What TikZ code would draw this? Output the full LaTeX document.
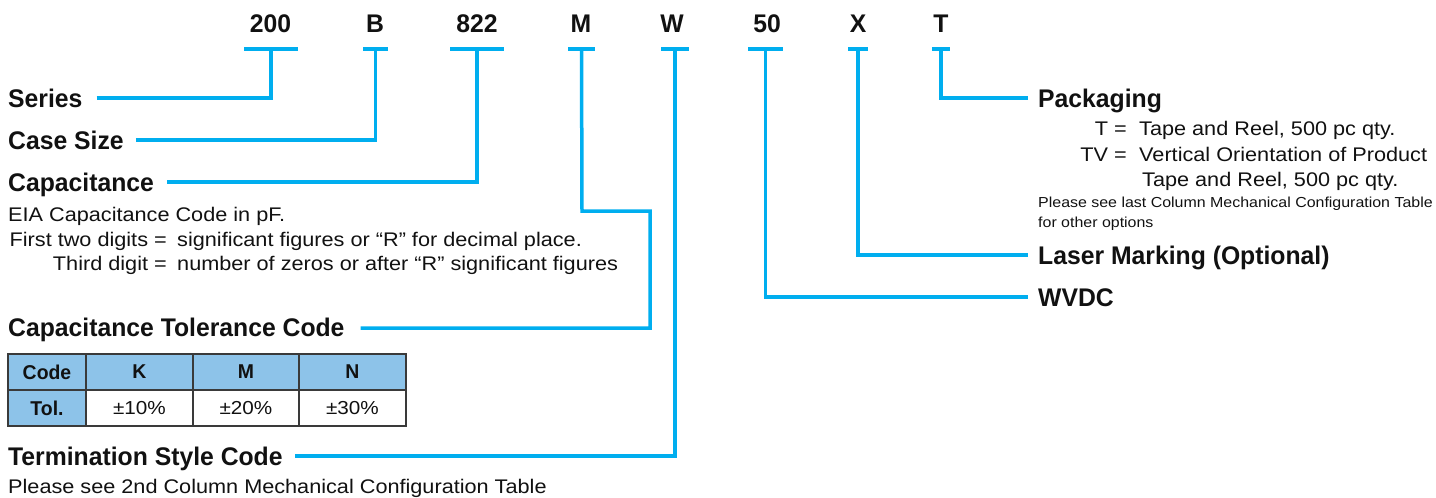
\documentclass[tikz,border=0pt]{standalone}
\usepackage{fontspec}
\setmainfont{Liberation Sans}[FakeStretch=0.97]
\newfontfamily\bodyfont{Liberation Sans}[FakeStretch=1.1]
\definecolor{cyanline}{HTML}{00AEEF}
\definecolor{tblue}{HTML}{8DC3E9}
\definecolor{tborder}{HTML}{3A3A3A}
\definecolor{txt}{HTML}{111111}
\tikzset{
  conn/.style={draw=cyanline, line width=3.5pt},
  codetxt/.style={font=\bfseries\fontsize{25.5}{30}\selectfont, text=txt, inner sep=0pt},
  codebar/.style={fill=cyanline, inner sep=0pt, minimum height=4pt},
  head/.style={font=\bfseries\fontsize{25.5}{30}\selectfont, text=txt, inner sep=0pt, anchor=west, text height=18.3pt, text depth=0pt},
  body/.style={font=\bodyfont\fontsize{19.7}{23}\selectfont, text=txt, inner sep=0pt, text height=13.5pt, text depth=0pt},
  small/.style={font=\bodyfont\fontsize{14.5}{17}\selectfont, text=txt, inner sep=0pt, anchor=west, text height=10pt, text depth=0pt},
  cellb/.style={font=\bfseries\fontsize{20}{24}\selectfont, text=txt, inner sep=0pt},
  cellr/.style={font=\bodyfont\fontsize{18.8}{22}\selectfont, text=txt, inner sep=0pt}
}
\begin{document}
\begin{tikzpicture}[x=1pt,y=-1pt]
\useasboundingbox (0,0) rectangle (1436,498);
% codes
\node[codetxt] (c200) at (270.5,24) {200};
\node[codetxt] (cB) at (375,24) {B};
\node[codetxt] (c822) at (477,24) {822};
\node[codetxt] (cM) at (581,24) {M};
\node[codetxt] (cW) at (672,24) {W};
\node[codetxt] (c50) at (767,24) {50};
\node[codetxt] (cX) at (858,24) {X};
\node[codetxt] (cT) at (941,24) {T};
% bars
\node[codebar, minimum width=54pt] (b200) at (271,48.5) {};
\node[codebar, minimum width=25pt] (bB) at (375.5,48.5) {};
\node[codebar, minimum width=54pt] (b822) at (477,48.5) {};
\node[codebar, minimum width=27pt] (bM) at (581.5,48.5) {};
\node[codebar, minimum width=28pt] (bW) at (675,48.5) {};
\node[codebar, minimum width=35pt] (b50) at (765.5,48.5) {};
\node[codebar, minimum width=20pt] (bX) at (858,48.5) {};
\node[codebar, minimum width=18pt] (bT) at (941,48.5) {};
% left headings
\node[head] (series) at (8,98) {Series};
\node[head] (case) at (8,140) {Case Size};
\node[head] (cap) at (8,182) {Capacitance};
\node[head] (captol) at (8,327) {Capacitance Tolerance Code};
\node[head] (term) at (8,456) {Termination Style Code};
% left body
\node[body, anchor=west] (eia) at (8,215) {EIA Capacitance Code in pF.};
\node[body, anchor=east] (first) at (167,240) {First two digits =};
\node[body, anchor=west] (firstd) at (177,240) {significant figures or “R” for decimal place.};
\node[body, anchor=east] (third) at (167,264) {Third digit =};
\node[body, anchor=west] (thirdd) at (177,264) {number of zeros or after “R” significant figures};
\node[body, anchor=west] (please) at (8,487) {Please see 2nd Column Mechanical Configuration Table};
% right headings
\node[head] (pack) at (1038,98) {Packaging};
\node[head] (laser) at (1038,255) {Laser Marking (Optional)};
\node[head] (wvdc) at (1038,297) {WVDC};
% right body
\node[body, anchor=east] (tq) at (1127,129) {T =};
\node[body, anchor=west] (tqd) at (1139,129) {Tape and Reel, 500 pc qty.};
\node[body, anchor=east] (tv) at (1127,155) {TV =};
\node[body, anchor=west] (tvd) at (1139,155) {Vertical Orientation of Product};
\node[body, anchor=west] (tvd2) at (1142,180) {Tape and Reel, 500 pc qty.};
\node[small] (pl1) at (1038,202) {Please see last Column Mechanical Configuration Table};
\node[small] (pl2) at (1038,222) {for other options};
% table
\fill[tblue] (8,354) rectangle (406,390);
\fill[tblue] (8,390) rectangle (86,426);
\draw[tborder, line width=1.5pt] (8,354) rectangle (406,426);
\draw[tborder, line width=1.2pt] (8,390) -- (406,390);
\draw[tborder, line width=1.2pt] (86,354) -- (86,426);
\draw[tborder, line width=1.2pt] (193,354) -- (193,426);
\draw[tborder, line width=1.2pt] (299,354) -- (299,426);
\node[cellb] (tcode) at (47,372) {Code};
\node[cellb] (tk) at (139.5,372) {K};
\node[cellb] (tm) at (246,372) {M};
\node[cellb] (tn) at (352.5,372) {N};
\node[cellb] (ttol) at (47,408) {Tol.};
\node[cellr] (t10) at (139.5,408) {±10\%};
\node[cellr] (t20) at (246,408) {±20\%};
\node[cellr] (t30) at (352.5,408) {±30\%};
% connectors
\coordinate (mA) at (582,211);
\coordinate (mB) at (650,211);
\coordinate (mC) at (650,328);
\draw[conn] ([xshift=14pt]series.east) -| (b200.center);
\draw[conn] ([xshift=12pt]case.east) -| (bB.center);
\draw[conn] ([xshift=13pt]cap.east) -| (b822.center);
\draw[conn] (bM.center) -- (mA) -- (mB) -- (mC) -- ([xshift=16pt]captol.east |- mC);
\draw[conn] (bW.center) |- ([xshift=12pt]term.east);
\draw[conn] (bT.center) |- ([xshift=-10pt]pack.west);
\draw[conn] (bX.center) |- ([xshift=-10pt]laser.west);
\draw[conn] (b50.center) |- ([xshift=-10pt]wvdc.west);
\end{tikzpicture}
\end{document}
